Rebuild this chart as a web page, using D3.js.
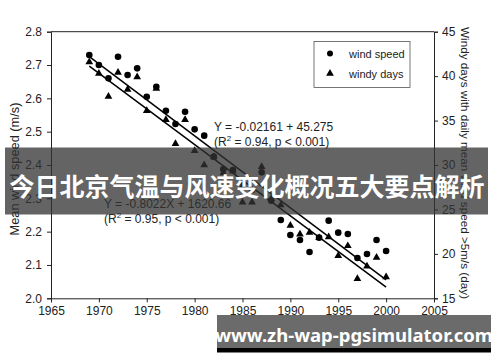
<!DOCTYPE html>
<html><head><meta charset="utf-8">
<script src="https://cdn.jsdelivr.net/npm/d3@7"></script>
<style>body{margin:0;background:#fff;}svg{display:block;font-family:"Liberation Sans",Arial,sans-serif;}</style>
</head><body>
<svg id="c" width="500" height="362"></svg>
<script>
const years = [1969,1970,1971,1972,1973,1974,1975,1976,1977,1978,1979,1980,1981,1982,1983,1984,1985,1986,1987,1988,1989,1990,1991,1992,1993,1994,1995,1996,1997,1998,1999,2000];
const windSpeed = [2.73,2.70,2.66,2.725,2.67,2.69,2.605,2.635,2.563,2.523,2.56,2.507,2.488,2.425,2.387,2.385,2.34,2.325,2.378,2.293,2.235,2.19,2.175,2.139,2.182,2.233,2.197,2.193,2.121,2.133,2.175,2.142];
const windyDays = [41.6,40.3,37.7,40.4,38.5,39.9,36.1,38.6,35.1,32.4,35.1,31.6,30.0,30.9,29.1,29.3,25.8,25.8,29.8,26.2,25.5,23.2,22.2,22.4,21.8,21.9,19.8,20.9,17.2,18.6,19.6,17.4];
const speedFit = {slope:-0.02161, intercept:45.275};
const daysFit = {slope:-0.8022, intercept:1620.66};
const xTicks = [1965,1970,1975,1980,1985,1990,1995,2000,2005];
const leftTicks = [2.0,2.1,2.2,2.3,2.4,2.5,2.6,2.7,2.8];
const rightTicks = [15,20,25,30,35,40,45];
const legendLabels = ["wind speed","windy days"];
const eqSpeed = ["Y = -0.02161 + 45.275","(R","2"," = 0.94, p < 0.001)"];
const eqDays = ["Y = -0.8022X + 1620.66","(R","2"," = 0.95, p < 0.001)"];
const leftTitle = "Mean wind speed (m/s)";
const rightTitle = "Windy days with daily mean wind speed >5m/s (day)";
const bannerText = "今日北京气温与风速变化概况五大要点解析";
const watermark = "www.zh-wap-pgsimulator.com";

const svg = d3.select("#c");
const L=51, R=434, T=31.7, B=298.3;
const x = d3.scaleLinear().domain([1965,2005]).range([L,R]);
const yL = d3.scaleLinear().domain([2.0,2.8]).range([B,T]);
const yR = d3.scaleLinear().domain([15,45]).range([B,T]);
const ink = "#222";

function styleAxis(g){
  g.select(".domain").attr("stroke",ink).attr("stroke-width",1);
  g.selectAll(".tick line").attr("stroke",ink);
  g.selectAll(".tick text").attr("fill",ink).attr("font-size",12).attr("font-family","Liberation Sans, Arial, sans-serif");
}
const gx = svg.append("g").attr("transform",`translate(0,${B})`);
gx.call(d3.axisBottom(x).tickValues(d3.range(1965,2006,1)).tickSize(3).tickFormat(""));
gx.call(d3.axisBottom(x).tickValues(xTicks).tickSize(4).tickPadding(4).tickFormat(d3.format("d")));
styleAxis(gx);
const gl = svg.append("g").attr("transform",`translate(${L},0)`);
gl.call(d3.axisLeft(yL).tickValues(d3.range(0,17).map(i=>2+i*0.05)).tickSize(3).tickFormat(""));
gl.call(d3.axisLeft(yL).tickValues(leftTicks).tickSize(4).tickPadding(5).tickFormat(d3.format(".1f")));
styleAxis(gl);
const gr = svg.append("g").attr("transform",`translate(${R},0)`);
gr.call(d3.axisRight(yR).tickValues(d3.range(15,46,1)).tickSize(3).tickFormat(""));
gr.call(d3.axisRight(yR).tickValues(rightTicks).tickSize(4).tickPadding(4).tickFormat(d3.format("d")));
styleAxis(gr);
svg.append("line").attr("x1",L).attr("x2",R).attr("y1",T).attr("y2",T).attr("stroke",ink);

svg.append("text").attr("transform",`translate(19,169) rotate(-90)`).attr("text-anchor","middle")
  .attr("font-size",12.8).attr("fill",ink).text(leftTitle);
svg.append("text").attr("transform",`translate(461,163) rotate(90)`).attr("text-anchor","middle")
  .attr("font-size",11.7).attr("fill",ink).text(rightTitle);

const fitYears=[1969,2000];
svg.append("line").attr("x1",x(fitYears[0])).attr("x2",x(fitYears[1]))
  .attr("y1",yL(speedFit.intercept+speedFit.slope*fitYears[0])).attr("y2",yL(speedFit.intercept+speedFit.slope*fitYears[1]))
  .attr("stroke","#000").attr("stroke-width",1.5);
svg.append("line").attr("x1",x(fitYears[0])).attr("x2",x(fitYears[1]))
  .attr("y1",yR(daysFit.intercept+daysFit.slope*fitYears[0])).attr("y2",yR(daysFit.intercept+daysFit.slope*fitYears[1]))
  .attr("stroke","#000").attr("stroke-width",1.5);

const tri = d3.symbol().type(d3.symbolTriangle).size(26);
svg.append("g").selectAll("path").data(years).join("path")
  .attr("d",tri).attr("transform",(d,i)=>`translate(${x(d)},${yR(windyDays[i])})`).attr("fill","#000");
svg.append("g").selectAll("circle").data(years).join("circle")
  .attr("cx",d=>x(d)).attr("cy",(d,i)=>yL(windSpeed[i])).attr("r",3.3).attr("fill","#000");

function eq(lines,x0,y0){
  svg.append("text").attr("x",x0).attr("y",y0).attr("font-size",12).attr("fill",ink).text(lines[0]);
  const t = svg.append("text").attr("x",x0).attr("y",y0+14.5).attr("font-size",12).attr("fill",ink);
  t.append("tspan").text(lines[1]);
  t.append("tspan").attr("dy",-5).attr("font-size",8).text(lines[2]);
  t.append("tspan").attr("dy",5).text(lines[3]);
}
eq(eqSpeed,214,131);
eq(eqDays,104,208);

svg.append("rect").attr("x",314).attr("y",41.5).attr("width",96).attr("height",46)
  .attr("fill","#fff").attr("stroke","#555").attr("stroke-width",0.8);
svg.append("circle").attr("cx",330).attr("cy",53.5).attr("r",3).attr("fill","#000");
svg.append("path").attr("d",tri).attr("transform","translate(330,73.5)").attr("fill","#000");
svg.append("text").attr("x",349).attr("y",57.5).attr("font-size",11).attr("fill",ink).text(legendLabels[0]);
svg.append("text").attr("x",349).attr("y",77.5).attr("font-size",11).attr("fill",ink).text(legendLabels[1]);

svg.append("rect").attr("x",5).attr("y",147.5).attr("width",483).attr("height",67)
  .attr("fill","#333").attr("fill-opacity",0.76);
svg.append("text").attr("x",247).attr("y",185).attr("text-anchor","middle").attr("dominant-baseline","central")
  .attr("font-family","'Noto Sans CJK SC',sans-serif").attr("font-weight","bold").attr("font-size",25)
  .attr("fill","#fff").text(bannerText);

svg.append("rect").attr("x",217).attr("y",315).attr("width",274).attr("height",33).attr("fill","#666").attr("fill-opacity",0.97);
svg.append("rect").attr("x",217).attr("y",348).attr("width",274).attr("height",4.5).attr("fill","#000");
svg.append("text").attr("x",354).attr("y",341.5).attr("text-anchor","middle")
  .attr("font-family","'Noto Sans',sans-serif").attr("font-weight","bold").attr("font-size",18.5)
  .attr("fill","#fff").text(watermark);
</script>
</body></html>
